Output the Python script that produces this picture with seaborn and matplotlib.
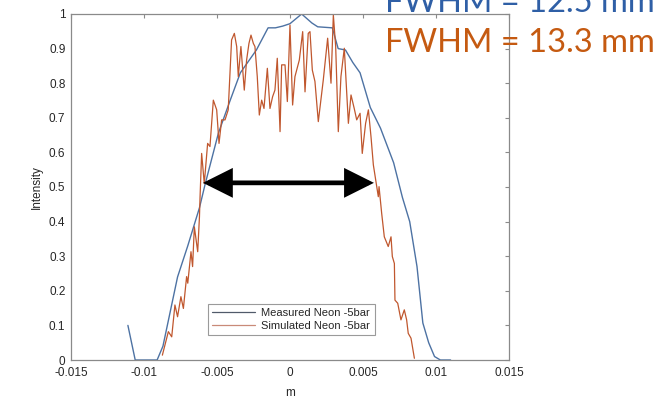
import numpy as np
import pandas as pd
import matplotlib
matplotlib.use("Agg")
import matplotlib.pyplot as plt
import seaborn as sns

# ---- data ----
meas_x = [-0.0111, -0.0106, -0.0091, -0.0087, -0.0082, -0.0077, -0.0070, -0.0062,
          -0.0058, -0.0049, -0.0041, -0.0034, -0.0023, -0.0015, -0.0010, -0.0005,
          0.0000, 0.0008, 0.0015, 0.0019, 0.0029, 0.0033, 0.0038, 0.0043, 0.0048,
          0.0055, 0.0062, 0.0071, 0.0077, 0.0082, 0.0087, 0.0091, 0.0095, 0.0099,
          0.0103, 0.0110]
meas_y = [0.10, 0.0, 0.0, 0.04, 0.14, 0.24, 0.33, 0.44,
          0.51, 0.656, 0.75, 0.83, 0.896, 0.96, 0.96, 0.965,
          0.972, 1.0, 0.974, 0.963, 0.96, 0.90, 0.896, 0.86, 0.83,
          0.73, 0.67, 0.57, 0.47, 0.40, 0.27, 0.107, 0.05, 0.01,
          0.0, 0.0]

sim_x = [-0.00874, -0.00833, -0.0081, -0.00788, -0.0077, -0.00747, -0.0073, -0.00708,
         -0.0070, -0.00678, -0.00667, -0.00655, -0.00632, -0.0062, -0.00616, -0.00605,
         -0.00587, -0.00564, -0.00548, -0.00525, -0.00502, -0.00486, -0.00468, -0.00445,
         -0.00423, -0.0040, -0.00381, -0.00365, -0.00354, -0.00336, -0.00313, -0.00297,
         -0.00281, -0.00267, -0.00251, -0.0024, -0.00224, -0.0021, -0.00194, -0.00178,
         -0.00155, -0.00137, -0.00119, -0.00103, -0.00087, -0.00068, -0.00057, -0.00034,
         -0.00018, 0.0, 0.00018, 0.00034, 0.00064, 0.00087, 0.00103, 0.00125,
         0.00137, 0.00153, 0.00171, 0.00194, 0.00228, 0.00258, 0.00281, 0.00297,
         0.00313, 0.00331, 0.00349, 0.00372, 0.0040, 0.00418, 0.0044, 0.00457,
         0.0048, 0.00495, 0.00518, 0.00537, 0.00555, 0.00571, 0.00605, 0.0061,
         0.00628, 0.00646, 0.00673, 0.00692, 0.00701, 0.00715, 0.00719, 0.00738,
         0.0076, 0.00783, 0.00799, 0.0081, 0.00829, 0.00852]
sim_y = [0.014, 0.082, 0.067, 0.159, 0.125, 0.183, 0.149, 0.241,
         0.222, 0.313, 0.27, 0.385, 0.313, 0.414, 0.47, 0.597,
         0.51, 0.626, 0.617, 0.751, 0.723, 0.626, 0.694, 0.694,
         0.723, 0.925, 0.944, 0.906, 0.819, 0.906, 0.78, 0.867,
         0.915, 0.939, 0.915, 0.906, 0.819, 0.708, 0.751, 0.727,
         0.843, 0.727, 0.761, 0.78, 0.872, 0.66, 0.853, 0.853,
         0.747, 0.968, 0.737, 0.819, 0.867, 0.949, 0.775, 0.944,
         0.949, 0.838, 0.805, 0.689, 0.809, 0.93, 0.80, 0.997,
         0.906, 0.66, 0.819, 0.901, 0.684, 0.766, 0.727, 0.694,
         0.713, 0.597, 0.684, 0.723, 0.645, 0.564, 0.472, 0.501,
         0.424, 0.356, 0.328, 0.356, 0.299, 0.279, 0.173, 0.164,
         0.116, 0.145, 0.116, 0.077, 0.063, 0.005]

series_names = ["Measured Neon -5bar", "Simulated Neon -5bar"]
x_ticks = [-0.015, -0.01, -0.005, 0, 0.005, 0.01, 0.015]
x_tick_labels = ["-0.015", "-0.01", "-0.005", "0", "0.005", "0.01", "0.015"]
y_ticks = [0, 0.1, 0.2, 0.3, 0.4, 0.5, 0.6, 0.7, 0.8, 0.9, 1]
y_tick_labels = ["0", "0.1", "0.2", "0.3", "0.4", "0.5", "0.6", "0.7", "0.8", "0.9", "1"]
fwhm_texts = ["FWHM = 12.5 mm", "FWHM = 13.3 mm"]
arrow_span = [-0.00596, 0.00575]
arrow_level = 0.512

# ---- styling ----
sns.set_style("white")
plt.rcParams["font.family"] = ["Liberation Sans", "DejaVu Sans"]

meas_color = "#4d72a3"
sim_color = "#c0572e"
axis_color = "#8a8a8a"
text_color = "#262626"

fig = plt.figure(figsize=(6.67, 4.19), dpi=100)
ax = fig.add_axes([0.1064, 0.1408, 0.6567, 0.8258])

df_meas = pd.DataFrame({"m": meas_x, "Intensity": meas_y})
df_sim = pd.DataFrame({"m": sim_x, "Intensity": sim_y})

sns.lineplot(data=df_meas, x="m", y="Intensity", ax=ax, color=meas_color,
             lw=1.0, sort=False, estimator=None, label=series_names[0])
sns.lineplot(data=df_sim, x="m", y="Intensity", ax=ax, color=sim_color,
             lw=0.9, sort=False, estimator=None, label=series_names[1])

ax.set_xlim(-0.015, 0.015)
ax.set_ylim(0, 1)
ax.set_xticks(x_ticks)
ax.set_xticklabels(x_tick_labels)
ax.set_yticks(y_ticks)
ax.set_yticklabels(y_tick_labels)
ax.tick_params(direction="in", length=3, width=0.8, colors=axis_color,
               labelcolor=text_color, labelsize=8.5, top=True, right=True)
ax.tick_params(axis="x", pad=5)
ax.tick_params(axis="y", pad=4)
for sp in ax.spines.values():
    sp.set_visible(True)
    sp.set_color(axis_color)
    sp.set_linewidth(0.9)

ax.set_xlabel("m", fontsize=8.5, color=text_color, labelpad=6)
ax.set_ylabel("Intensity", fontsize=8.5, color=text_color, labelpad=4)

leg = ax.legend(loc="lower left", bbox_to_anchor=(0.30, 0.055), fontsize=8,
                frameon=True, fancybox=False, framealpha=1, edgecolor="#9a9a9a",
                handlelength=3.8, borderpad=0.4, labelspacing=0.25, handletextpad=0.6)
leg.get_frame().set_linewidth(0.8)
for line, c in zip(leg.get_lines(), ["#505a6a", "#c98a78"]):
    line.set_color(c)
    line.set_linewidth(0.9)

# double-headed FWHM arrow
ax.annotate("", xy=(arrow_span[1], arrow_level), xytext=(arrow_span[0], arrow_level),
            arrowprops=dict(arrowstyle="<|-|>,head_length=0.8,head_width=0.4",
                            color="black", lw=3.4, shrinkA=0, shrinkB=0,
                            mutation_scale=20, joinstyle="miter", capstyle="butt"))

fig.text(0.577, 1 - 12 / 419, fwhm_texts[0], fontsize=23.5, color="#2f5fa6",
         family=["Lato", "DejaVu Sans"], va="baseline", ha="left")
fig.text(0.577, 1 - 52 / 419, fwhm_texts[1], fontsize=23.5, color="#c55a11",
         family=["Lato", "DejaVu Sans"], va="baseline", ha="left")

fig.savefig("out.png", dpi=100)
